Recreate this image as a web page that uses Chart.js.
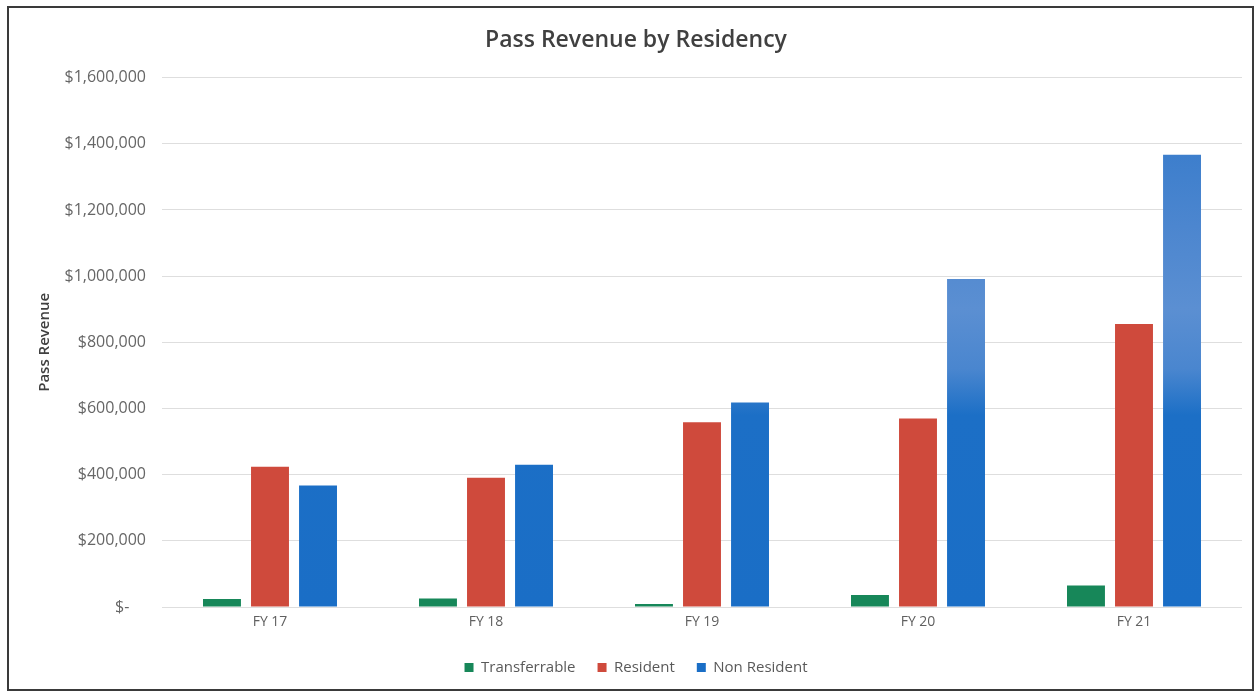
<!DOCTYPE html>
<html>
<head>
<meta charset="utf-8">
<title>Pass Revenue by Residency</title>
<script src="https://cdn.jsdelivr.net/npm/chart.js@4.4.1/dist/chart.umd.min.js"></script>
<style>
  html, body { margin: 0; padding: 0; background: #fff; }
  #wrap { width: 1258px; height: 692px; position: relative; }
</style>
</head>
<body>
<div id="wrap"><canvas id="passChart"></canvas></div>
<script>
const fiscalYears = ['FY 17', 'FY 18', 'FY 19', 'FY 20', 'FY 21'];
const transferrable = [24000, 26000, 9000, 36000, 65000];
const resident = [424000, 391000, 558000, 570000, 855000];
const nonResident = [367000, 430000, 618000, 991000, 1367000];
const yTicks = [0, 200000, 400000, 600000, 800000, 1000000, 1200000, 1400000, 1600000];

const FONT = '"Open Sans", "Liberation Sans", sans-serif';

function money(v) {
  if (v === 0) return '$-    ';
  return '$' + v.toLocaleString('en-US');
}

// blue bars wash out toward the upper part of the taller columns
function blueFill(ctx) {
  const chart = ctx.chart;
  const area = chart.chartArea;
  if (!area) return '#1c6fc6';
  const y = chart.scales.y;
  const g = chart.ctx.createLinearGradient(0, y.getPixelForValue(0), 0, y.getPixelForValue(1600000));
  const stop = v => v / 1600000;
  g.addColorStop(0, '#1a6ec6');
  g.addColorStop(stop(580000), '#1c6fc6');
  g.addColorStop(stop(720000), '#4a86cf');
  g.addColorStop(stop(900000), '#5b8fd2');
  g.addColorStop(stop(1150000), '#4c86cf');
  g.addColorStop(1, '#2d76c9');
  return g;
}

const frame = {
  id: 'frame',
  afterDraw(chart) {
    const c = chart.ctx;
    c.save();
    c.strokeStyle = '#3a3a3a';
    c.lineWidth = 2;
    c.strokeRect(8, 7, 1245, 683);
    c.restore();
  }
};

new Chart(document.getElementById('passChart'), {
  type: 'bar',
  data: {
    labels: fiscalYears,
    datasets: [
      { label: 'Transferrable', data: transferrable, backgroundColor: '#178759' },
      { label: 'Resident', data: resident, backgroundColor: '#cf4a3c' },
      { label: 'Non Resident', data: nonResident, backgroundColor: blueFill }
    ]
  },
  options: {
    responsive: true,
    maintainAspectRatio: false,
    animation: false,
    categoryPercentage: 0.667,
    barPercentage: 0.79,
    layout: { padding: { left: 30, right: 16, top: 0, bottom: 7 } },
    plugins: {
      title: {
        display: true,
        text: 'Pass Revenue by Residency',
        color: '#404040',
        font: { family: FONT, size: 23, weight: '600' },
        padding: { top: 27, bottom: 23 }
      },
      legend: {
        position: 'bottom',
        labels: {
          color: '#595959',
          font: { family: FONT, size: 15 },
          boxWidth: 9,
          boxHeight: 9,
          padding: 22
        }
      },
      tooltip: { enabled: false }
    },
    scales: {
      x: {
        grid: { display: false, drawTicks: false },
        border: { display: false },
        ticks: { color: '#606060', font: { family: FONT, size: 14, lineHeight: 1.5 }, padding: 5 }
      },
      y: {
        min: 0,
        max: 1600000,
        afterBuildTicks(scale) {
          scale.ticks = yTicks.map(v => ({ value: v }));
        },
        afterFit(scale) { scale.width = 132; },
        grid: { color: '#dedede', drawTicks: false },
        border: { display: false },
        ticks: {
          color: '#666666',
          font: { family: FONT, size: 16 },
          padding: 16,
          callback: v => money(v)
        },
        title: {
          display: true,
          text: 'Pass Revenue',
          color: '#404040',
          font: { family: FONT, size: 15, weight: '600' },
          padding: { top: 6, bottom: 0 }
        }
      }
    }
  },
  plugins: [frame]
});
</script>
</body>
</html>
